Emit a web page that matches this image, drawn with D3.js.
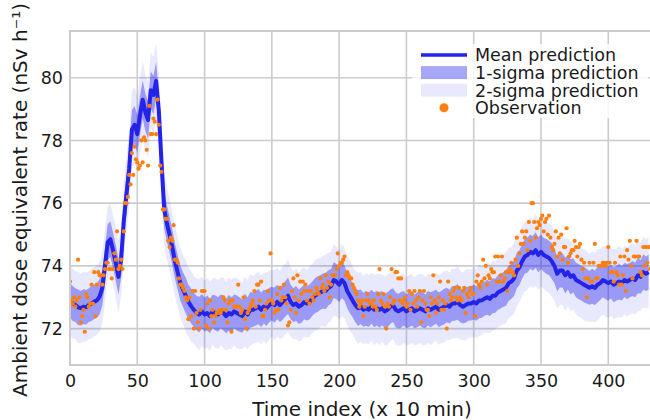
<!DOCTYPE html>
<html>
<head>
<meta charset="utf-8">
<script src="https://cdn.jsdelivr.net/npm/d3@7"></script>
<style>
  body { margin: 0; background: #fff; }
  svg { display: block; font-family: "DejaVu Sans", sans-serif; }
</style>
</head>
<body>
<svg id="chart" width="650" height="420"></svg>
<script>
// mean prediction, one value every 2 time steps (x = 0, 2, 4, ... 430)
const meanPred = [
  72.91,72.8,72.75,72.68,72.65,72.7,72.68,72.75,72.8,72.86,
  72.9,73.02,73.3,74.0,74.75,74.85,74.5,74.1,73.65,74.2,
  75.45,76.3,77.1,78.35,78.5,78.2,78.8,79.3,78.9,78.65,
  79.6,79.45,79.9,78.95,77.3,75.8,75.35,75.0,74.6,74.15,
  73.8,73.45,73.25,73.05,72.85,72.72,72.6,72.5,72.45,72.55,
  72.45,72.5,72.4,72.55,72.5,72.45,72.55,72.5,72.4,72.5,
  72.45,72.55,72.5,72.45,72.4,72.55,72.45,72.6,72.6,72.65,
  72.7,72.6,72.7,72.65,72.75,72.8,72.75,72.85,72.75,72.85,
  72.95,73.05,72.85,72.75,72.8,72.7,72.75,72.85,72.8,72.85,
  72.95,73.05,73.1,73.15,73.2,73.2,73.3,73.35,73.55,73.5,
  73.4,73.55,73.45,73.2,73.05,72.9,72.75,72.65,72.7,72.6,
  72.65,72.6,72.7,72.6,72.65,72.6,72.65,72.55,72.6,72.7,
  72.75,72.6,72.55,72.6,72.65,72.55,72.6,72.65,72.55,72.6,
  72.65,72.6,72.55,72.65,72.6,72.65,72.7,72.6,72.65,72.7,
  72.75,72.7,72.8,72.8,72.85,72.75,72.7,72.75,72.8,72.8,
  72.85,72.8,72.9,72.9,72.95,73.0,72.95,73.05,73.05,73.15,
  73.2,73.25,73.3,73.45,73.5,73.6,73.85,73.95,74.15,74.3,
  74.35,74.45,74.4,74.5,74.35,74.45,74.35,74.3,74.25,74.15,
  74.0,73.75,73.85,73.85,73.7,73.8,73.65,73.7,73.55,73.5,
  73.45,73.4,73.35,73.3,73.35,73.3,73.4,73.45,73.55,73.5,
  73.45,73.5,73.4,73.45,73.5,73.45,73.55,73.5,73.55,73.6,
  73.55,73.7,73.65,73.8,73.75,73.8
];

// predictive standard deviation, same grid as meanPred
const sigma = [
  0.55,0.56,0.54,0.57,0.55,0.56,0.55,0.54,0.56,0.55,
  0.55,0.56,0.57,0.58,0.58,0.57,0.56,0.57,0.57,0.58,
  0.6,0.6,0.6,0.62,0.6,0.6,0.62,0.61,0.6,0.6,
  0.6,0.61,0.6,0.6,0.62,0.6,0.58,0.57,0.56,0.56,
  0.55,0.56,0.55,0.57,0.55,0.56,0.54,0.55,0.57,0.55,
  0.54,0.56,0.55,0.53,0.56,0.55,0.54,0.56,0.55,0.57,
  0.55,0.54,0.56,0.55,0.53,0.56,0.55,0.57,0.54,0.55,
  0.56,0.55,0.54,0.57,0.55,0.53,0.56,0.55,0.54,0.57,
  0.56,0.58,0.55,0.54,0.56,0.55,0.57,0.55,0.54,0.56,
  0.55,0.56,0.57,0.55,0.56,0.58,0.56,0.55,0.57,0.56,
  0.55,0.58,0.56,0.55,0.56,0.54,0.55,0.57,0.55,0.54,
  0.56,0.55,0.54,0.56,0.55,0.57,0.54,0.55,0.56,0.55,
  0.54,0.56,0.55,0.57,0.55,0.54,0.56,0.55,0.54,0.56,
  0.55,0.57,0.54,0.55,0.56,0.55,0.54,0.56,0.55,0.57,
  0.55,0.54,0.56,0.55,0.57,0.55,0.54,0.56,0.55,0.54,
  0.56,0.55,0.57,0.55,0.54,0.56,0.55,0.56,0.54,0.55,
  0.56,0.55,0.57,0.56,0.55,0.56,0.57,0.55,0.56,0.55,
  0.56,0.54,0.55,0.57,0.56,0.55,0.54,0.56,0.55,0.57,
  0.55,0.56,0.54,0.55,0.57,0.55,0.56,0.54,0.55,0.56,
  0.55,0.57,0.55,0.54,0.56,0.55,0.57,0.54,0.55,0.56,
  0.55,0.54,0.56,0.55,0.57,0.55,0.54,0.56,0.55,0.56,
  0.55,0.57,0.54,0.56,0.55,0.56
];

// observations, one per time step (x = 0 .. 431)
const observed = [
  73.5,72.9,72.8,73.0,72.7,72.9,74.2,73.0,72.2,72.4,
  72.6,71.9,73.1,73.0,72.7,72.8,73.4,72.8,73.8,72.4,
  73.4,73.8,73.7,73.7,73.4,73.7,73.9,74.1,74.1,73.9,
  73.9,73.6,73.9,74.4,74.2,75.1,73.9,74.0,74.2,73.9,
  75.1,76.0,76.0,76.2,76.9,76.6,77.6,76.9,77.8,77.4,
  77.3,77.1,77.2,78.0,77.3,78.1,78.0,77.7,77.2,79.1,
  78.2,78.2,78.7,78.6,78.2,79.3,78.5,77.2,77.0,75.8,
  75.8,75.5,75.5,74.8,74.6,74.9,74.8,75.3,74.2,74.2,
  74.1,73.6,73.4,73.4,73.3,73.2,73.0,72.9,72.3,73.0,
  72.4,73.2,72.0,73.2,72.5,72.2,72.0,72.6,73.2,73.2,
  73.2,72.1,72.8,72.0,72.9,72.4,72.6,72.2,72.4,72.5,
  72.5,72.6,72.5,72.6,73.0,72.9,72.6,72.2,72.8,72.9,
  71.9,72.9,72.7,72.7,72.7,73.4,72.7,72.5,72.6,73.0,
  72.3,72.0,72.5,72.6,72.7,72.8,72.9,73.2,72.7,73.4,
  73.4,72.9,73.5,72.4,72.4,72.6,72.8,73.2,72.9,74.4,
  72.9,72.8,72.5,72.6,73.1,72.6,73.3,72.9,73.0,73.4,
  73.0,72.8,72.1,72.2,72.6,73.2,73.6,73.0,72.5,73.7,
  72.9,73.5,73.1,73.5,73.2,73.4,72.9,73.2,72.8,73.2,
  73.0,72.9,73.1,73.3,73.2,73.1,73.6,73.3,73.4,73.2,
  73.7,73.3,73.5,73.0,73.4,73.7,73.7,73.7,73.9,74.4,
  74.0,74.1,74.1,74.2,74.3,73.7,73.8,73.7,73.6,73.6,
  73.4,73.3,73.2,73.1,72.9,72.7,72.8,72.9,72.4,72.7,
  72.9,73.1,72.9,72.8,72.8,72.7,72.9,72.7,72.6,73.1,
  73.9,72.9,72.8,73.1,72.7,72.0,72.8,72.7,73.0,73.9,
  72.8,72.9,73.8,73.8,73.6,72.9,73.6,72.8,72.9,73.0,
  72.7,72.8,73.2,72.6,73.1,72.8,73.2,72.9,72.7,73.0,
  73.2,72.2,72.9,73.2,72.8,72.6,72.6,72.4,73.0,72.8,
  73.7,72.9,72.5,72.8,73.0,73.5,72.6,72.9,72.6,72.8,
  72.0,73.5,73.1,72.9,73.0,73.2,73.3,73.0,72.9,73.3,
  73.0,72.9,73.2,73.3,72.5,73.1,73.0,73.2,73.3,73.1,
  73.1,72.4,73.5,73.7,73.4,73.3,73.5,74.2,73.6,74.0,
  73.4,73.7,73.6,73.9,73.8,73.8,74.3,73.5,74.3,73.5,
  73.7,74.3,73.5,73.6,73.8,73.2,73.8,73.9,74.1,73.8,
  73.7,74.2,74.9,74.0,74.4,74.7,75.1,74.7,74.9,75.1,
  74.5,75.4,74.8,76.0,76.0,75.4,74.9,75.2,75.4,75.3,
  75.5,75.6,75.1,75.4,75.5,75.0,75.6,74.9,74.6,74.5,
  74.7,75.1,74.3,74.9,74.4,75.0,74.2,74.6,74.6,75.2,
  74.1,74.3,74.4,74.5,74.5,74.8,74.6,74.3,74.6,74.7,
  74.2,73.9,74.1,73.6,73.0,73.6,74.1,73.5,73.5,74.1,
  74.7,73.6,73.6,74.0,74.0,74.0,74.1,74.1,74.0,74.1,
  74.6,74.1,73.8,73.8,73.5,74.1,73.8,73.7,73.4,74.3,
  73.4,73.7,74.3,73.2,74.5,74.2,74.8,74.0,73.6,74.3,
  74.3,74.8,74.3,74.3,73.8,73.7,74.6,74.0,74.6,74.1,
  74.6,73.9
];

const xTicks = [0, 50, 100, 150, 200, 250, 300, 350, 400];
const yTicks = [72, 74, 76, 78, 80];
const legendLabels = ['Mean prediction', '1-sigma prediction', '2-sigma prediction', 'Observation'];

const blue = '#2323ea', orange = '#ff7f0e', gridCol = '#cccccc';

const svg = d3.select('#chart');
const x = d3.scaleLinear().domain([0, 431]).range([70, 650]);
const y = d3.scaleLinear().domain([70.84, 81.49]).range([365, 31]);

const pred = meanPred.map((m, i) => ({ t: i * 2, m, s: sigma[i] }));
const obs = observed.map((v, i) => ({ t: i, v }));

svg.append('defs').append('clipPath').attr('id', 'plotclip')
  .append('rect').attr('x', 70).attr('y', 31).attr('width', 580).attr('height', 334);

// grid
const grid = svg.append('g');
grid.selectAll('line.gx').data(xTicks).enter().append('line')
  .attr('x1', d => x(d)).attr('x2', d => x(d)).attr('y1', 31).attr('y2', 365)
  .attr('stroke', gridCol).attr('stroke-width', 1.6);
grid.selectAll('line.gy').data(yTicks).enter().append('line')
  .attr('x1', 70).attr('x2', 650).attr('y1', d => y(d)).attr('y2', d => y(d))
  .attr('stroke', gridCol).attr('stroke-width', 1.6);

const plot = svg.append('g').attr('clip-path', 'url(#plotclip)');

const band = k => d3.area()
  .x(d => x(d.t)).y0(d => y(d.m - k * d.s)).y1(d => y(d.m + k * d.s));

plot.append('path').datum(pred).attr('d', band(2))
  .attr('fill', blue).attr('fill-opacity', 0.1);
plot.append('path').datum(pred).attr('d', band(1))
  .attr('fill', blue).attr('fill-opacity', 0.4);
plot.append('path').datum(pred)
  .attr('d', d3.line().x(d => x(d.t)).y(d => y(d.m)))
  .attr('fill', 'none').attr('stroke', blue).attr('stroke-width', 4)
  .attr('stroke-linejoin', 'round');
plot.selectAll('circle.obs').data(obs).enter().append('circle')
  .attr('class', 'obs')
  .attr('cx', d => x(d.t)).attr('cy', d => y(d.v)).attr('r', 2.1)
  .attr('fill', orange);

// frame
svg.append('rect').attr('x', 70).attr('y', 31).attr('width', 582).attr('height', 334)
  .attr('fill', 'none').attr('stroke', gridCol).attr('stroke-width', 2);

// axes
const xAxis = svg.append('g').attr('transform', 'translate(0,365)')
  .call(d3.axisBottom(x).tickValues(xTicks).tickSize(0).tickPadding(10));
const yAxis = svg.append('g').attr('transform', 'translate(70,0)')
  .call(d3.axisLeft(y).tickValues(yTicks).tickSize(0).tickPadding(7));
[xAxis, yAxis].forEach(a => {
  a.select('.domain').remove();
  a.selectAll('text').attr('font-size', 17.5).attr('fill', '#1a1a1a')
    .attr('font-family', '"DejaVu Sans", sans-serif');
});

svg.append('text').attr('x', 362).attr('y', 416).attr('text-anchor', 'middle')
  .attr('font-size', 20).attr('fill', '#1a1a1a').text('Time index (x 10 min)');
svg.append('text').attr('transform', 'translate(27,200) rotate(-90)')
  .attr('text-anchor', 'middle').attr('font-size', 20).attr('fill', '#1a1a1a')
  .text('Ambient dose equivalent rate (nSv h⁻¹)');

// legend
const lg = svg.append('g');
lg.append('rect').attr('x', 412).attr('y', 44).attr('width', 236).attr('height', 74)
  .attr('fill', '#fff').attr('fill-opacity', 0.8);
const rowY = i => 55 + i * 17.6;
lg.append('line').attr('x1', 421).attr('x2', 467).attr('y1', rowY(0)).attr('y2', rowY(0))
  .attr('stroke', blue).attr('stroke-width', 3.5);
lg.append('rect').attr('x', 421).attr('y', rowY(1) - 6.5).attr('width', 46).attr('height', 13)
  .attr('fill', blue).attr('fill-opacity', 0.4);
lg.append('rect').attr('x', 421).attr('y', rowY(2) - 6.5).attr('width', 46).attr('height', 13)
  .attr('fill', blue).attr('fill-opacity', 0.1);
lg.append('circle').attr('cx', 444).attr('cy', rowY(3)).attr('r', 4.5).attr('fill', orange);
lg.selectAll('text').data(legendLabels).enter().append('text')
  .attr('x', 475).attr('y', (d, i) => rowY(i)).attr('dy', '0.36em')
  .attr('font-size', 17.5).attr('fill', '#1a1a1a').text(d => d);
</script>
</body>
</html>
